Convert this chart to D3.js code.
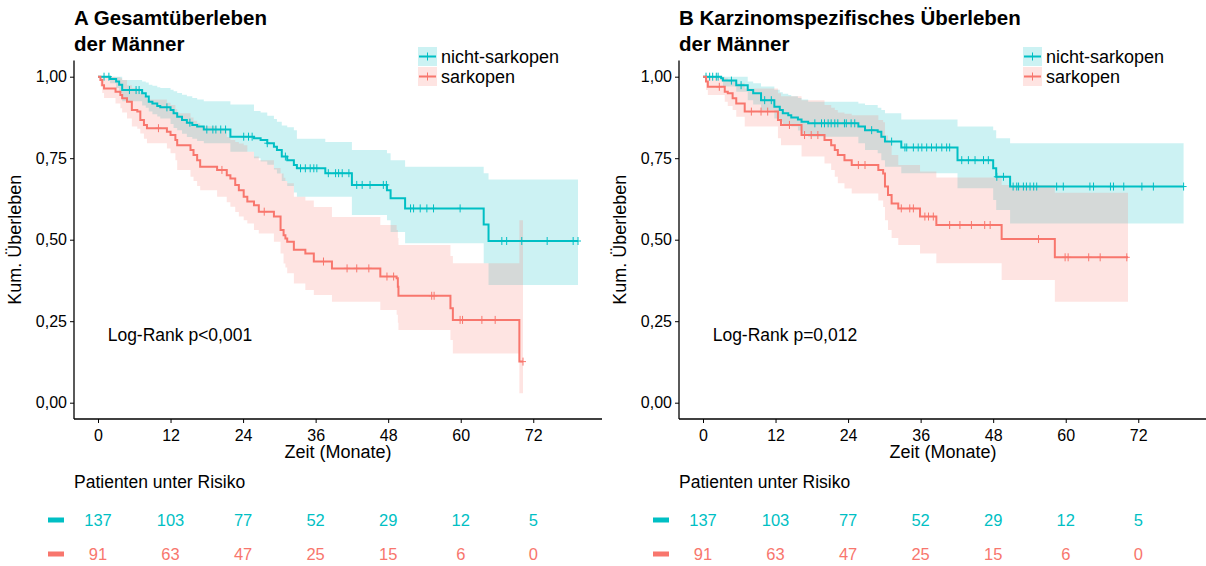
<!DOCTYPE html>
<html>
<head>
<meta charset="utf-8">
<script src="https://cdn.jsdelivr.net/npm/d3@7"></script>
<style>
  body { margin: 0; background: #fff; }
  text { font-family: "Liberation Sans", Arial, sans-serif; fill: #000; }
</style>
</head>
<body>
<div id="chart"></div>
<script>
// group names, colours and risk table
var groups = ["nicht-sarkopen", "sarkopen"];
var riskTimes = [0, 12, 24, 36, 48, 60, 72];
var riskNicht = [137, 103, 77, 52, 29, 12, 5];
var riskSark = [91, 63, 47, 25, 15, 6, 0];

// Panel A: Gesamtueberleben, nicht-sarkopen
var aNichtTime = [0, 2.0, 3.0, 3.5, 4.0, 7.3, 7.9, 8.4, 9.0, 9.8, 10.3, 12.0, 12.5, 13.1, 13.9, 14.7, 15.6, 16.4, 17.5, 21.9, 25.8, 26.9, 28.0, 29.1, 29.6, 30.4, 31.3, 32.4, 32.9, 37.6, 42.0, 47.8, 48.4, 50.8, 63.8, 64.6];
var aNichtSurv = [1, 0.993, 0.985, 0.975, 0.959, 0.949, 0.939, 0.923, 0.918, 0.910, 0.906, 0.898, 0.888, 0.877, 0.867, 0.859, 0.852, 0.847, 0.838, 0.816, 0.811, 0.806, 0.796, 0.785, 0.775, 0.755, 0.744, 0.729, 0.719, 0.704, 0.668, 0.652, 0.627, 0.596, 0.547, 0.496];
var aNichtLow = [1, 0.98, 0.965, 0.95, 0.925, 0.912, 0.905, 0.893, 0.885, 0.878, 0.872, 0.855, 0.843, 0.836, 0.825, 0.815, 0.81, 0.803, 0.796, 0.77, 0.75, 0.74, 0.73, 0.715, 0.703, 0.68, 0.665, 0.645, 0.632, 0.632, 0.576, 0.56, 0.524, 0.489, 0.428, 0.361];
var aNichtUp = [1, 1, 1, 1, 0.99, 0.985, 0.982, 0.975, 0.972, 0.968, 0.965, 0.96, 0.955, 0.95, 0.945, 0.94, 0.935, 0.93, 0.925, 0.915, 0.895, 0.89, 0.88, 0.87, 0.862, 0.85, 0.845, 0.836, 0.81, 0.80, 0.775, 0.765, 0.744, 0.724, 0.704, 0.685];
var aNichtEnd = 79.4;
var aNichtCens = [1.0, 1.8, 5.2, 6.3, 6.8, 11.4, 15.2, 18.0, 19.0, 19.5, 20.3, 21.1, 24.1, 24.9, 25.5, 28.0, 31.0, 33.5, 34.3, 35.1, 35.7, 36.2, 38.1, 39.3, 39.8, 40.4, 41.5, 42.8, 43.7, 45.0, 47.2, 47.7, 51.7, 52.2, 53.3, 54.4, 55.5, 59.9, 66.8, 67.6, 70.1, 74.3, 78.6, 79.4];

// Panel A: Gesamtueberleben, sarkopen
var aSarkTime = [0, 0.4, 0.7, 1.0, 2.9, 3.7, 4.0, 4.8, 5.6, 6.5, 7.0, 7.6, 8.1, 11.4, 12.0, 12.8, 13.1, 15.3, 15.8, 16.4, 16.9, 19.7, 21.3, 21.9, 22.7, 23.3, 24.1, 24.7, 25.8, 26.6, 29.1, 30.2, 30.7, 31.0, 31.3, 32.4, 34.3, 35.7, 38.7, 46.7, 49.4, 49.6, 49.7, 58.3, 58.7, 69.7];
var aSarkSurv = [1, 0.990, 0.974, 0.964, 0.954, 0.944, 0.934, 0.923, 0.898, 0.893, 0.867, 0.852, 0.842, 0.831, 0.821, 0.806, 0.790, 0.775, 0.760, 0.744, 0.724, 0.714, 0.698, 0.688, 0.668, 0.652, 0.632, 0.617, 0.606, 0.586, 0.571, 0.530, 0.514, 0.504, 0.494, 0.469, 0.458, 0.433, 0.412, 0.387, 0.382, 0.356, 0.328, 0.290, 0.254, 0.126];
var aSarkLow = [1, 0.97, 0.95, 0.935, 0.918, 0.903, 0.89, 0.872, 0.847, 0.84, 0.826, 0.81, 0.796, 0.78, 0.765, 0.744, 0.714, 0.693, 0.68, 0.665, 0.652, 0.632, 0.615, 0.601, 0.585, 0.571, 0.56, 0.55, 0.53, 0.519, 0.494, 0.458, 0.427, 0.415, 0.397, 0.366, 0.346, 0.330, 0.310, 0.284, 0.27, 0.245, 0.223, 0.192, 0.151, 0.029];
var aSarkUp = [1, 1, 1, 1, 0.998, 0.995, 0.99, 0.974, 0.965, 0.96, 0.949, 0.94, 0.93, 0.92, 0.913, 0.9, 0.888, 0.875, 0.865, 0.857, 0.848, 0.836, 0.815, 0.806, 0.8, 0.795, 0.79, 0.77, 0.755, 0.744, 0.72, 0.703, 0.69, 0.68, 0.673, 0.632, 0.62, 0.60, 0.57, 0.545, 0.53, 0.505, 0.484, 0.45, 0.428, 0.56];
var aSarkEnd = 70.3;
var aSarkCens = [10.0, 20.5, 27.5, 37.3, 41.2, 42.8, 44.8, 47.8, 48.9, 55.2, 55.6, 59.9, 60.3, 63.5, 65.7, 70.3];

// Panel B: Karzinomspezifisches Ueberleben, nicht-sarkopen
var bNichtTime = [0, 3.0, 3.3, 5.5, 7.4, 8.3, 9.6, 11.8, 12.7, 13.2, 14.1, 14.6, 15.7, 16.3, 17.4, 25.7, 26.8, 28.9, 29.5, 30.1, 32.8, 42.1, 48.0, 48.5, 50.8];
var bNichtSurv = [1, 0.995, 0.988, 0.974, 0.959, 0.949, 0.928, 0.908, 0.898, 0.888, 0.882, 0.875, 0.869, 0.862, 0.857, 0.847, 0.836, 0.831, 0.816, 0.801, 0.783, 0.744, 0.719, 0.693, 0.663];
var bNichtLow = [1, 0.985, 0.97, 0.954, 0.928, 0.915, 0.898, 0.872, 0.862, 0.855, 0.85, 0.847, 0.835, 0.825, 0.816, 0.796, 0.775, 0.765, 0.744, 0.724, 0.704, 0.658, 0.622, 0.591, 0.55];
var bNichtUp = [1, 1, 1, 1, 0.985, 0.98, 0.97, 0.96, 0.952, 0.948, 0.944, 0.94, 0.935, 0.93, 0.923, 0.918, 0.913, 0.905, 0.898, 0.888, 0.869, 0.847, 0.836, 0.811, 0.796];
var bNichtEnd = 79.5;
var bNichtCens = [0.5, 1.1, 1.6, 2.2, 2.5, 4.7, 6.3, 10.2, 11.3, 18.5, 19.6, 20.1, 20.7, 21.2, 21.8, 22.3, 23.4, 23.7, 24.5, 25.1, 27.9, 31.2, 33.4, 33.7, 34.8, 35.6, 36.2, 37.0, 37.8, 38.6, 39.5, 40.3, 40.8, 42.8, 43.9, 45.0, 46.4, 47.2, 48.6, 49.7, 51.3, 51.9, 52.2, 53.0, 53.5, 54.1, 54.7, 55.2, 58.5, 59.6, 64.0, 64.6, 67.4, 67.9, 69.6, 72.6, 74.5, 79.5];

// Panel B: Karzinomspezifisches Ueberleben, sarkopen
var bSarkTime = [0, 0.5, 0.8, 3.6, 4.1, 4.9, 5.5, 6.9, 12.4, 12.9, 16.3, 20.1, 21.2, 21.8, 22.3, 23.4, 24.6, 29.0, 29.8, 30.1, 30.6, 31.2, 32.3, 35.9, 38.6, 49.4, 58.2];
var bSarkSurv = [1, 0.985, 0.969, 0.954, 0.949, 0.934, 0.918, 0.893, 0.867, 0.852, 0.821, 0.806, 0.790, 0.775, 0.760, 0.744, 0.729, 0.714, 0.703, 0.663, 0.637, 0.611, 0.596, 0.571, 0.545, 0.502, 0.446];
var bSarkLow = [1, 0.959, 0.944, 0.923, 0.91, 0.898, 0.877, 0.847, 0.811, 0.79, 0.755, 0.734, 0.714, 0.693, 0.673, 0.657, 0.642, 0.62, 0.60, 0.56, 0.53, 0.505, 0.484, 0.458, 0.428, 0.376, 0.31];
var bSarkUp = [1, 1, 1, 0.995, 0.99, 0.985, 0.98, 0.964, 0.949, 0.94, 0.928, 0.913, 0.905, 0.898, 0.89, 0.886, 0.882, 0.867, 0.86, 0.82, 0.80, 0.76, 0.729, 0.709, 0.691, 0.668, 0.644];
var bSarkEnd = 70.3;
var bSarkCens = [2.7, 8.0, 9.6, 10.7, 14.3, 16.8, 17.9, 19.0, 25.7, 26.8, 32.8, 34.2, 34.8, 36.7, 37.3, 38.1, 40.8, 42.5, 44.4, 46.6, 47.5, 55.5, 59.9, 60.4, 63.8, 65.7, 70.1];

var cyan = "#00BFC4", red = "#F8766D";

var svg = d3.select("#chart").append("svg")
    .attr("width", 1206)
    .attr("height", 566);

// turn parallel arrays into rows, last row repeated at end time
function makeRows(time, surv, low, up, end) {
    var rows = time.map((t, i) => ({t: t, s: surv[i], lo: low[i], hi: up[i]}));
    var last = rows[rows.length - 1];
    rows.push({t: end, s: last.s, lo: last.lo, hi: last.hi});
    return rows;
}

function survAt(rows, t) {
    var v = rows[0].s;
    rows.forEach(r => { if (r.t <= t) v = r.s; });
    return v;
}

function drawPanel(left, title, pText, curves) {
    var plotW = 528;
    var top = 60.4, bottom = 419;
    var x = d3.scaleLinear().domain([-3.97, 83.37]).range([left, left + plotW]);
    var y = d3.scaleLinear().domain([-0.05, 1.05]).range([bottom, top]);

    var g = svg.append("g");

    // ribbons first, then lines
    curves.forEach(c => {
        var area = d3.area()
            .curve(d3.curveStepAfter)
            .x(d => x(d.t))
            .y0(d => y(d.lo))
            .y1(d => y(d.hi));
        g.append("path")
            .datum(c.rows)
            .attr("d", area)
            .attr("fill", c.color)
            .attr("fill-opacity", 0.2);
    });

    curves.forEach(c => {
        var line = d3.line()
            .curve(d3.curveStepAfter)
            .x(d => x(d.t))
            .y(d => y(d.s));
        g.append("path")
            .datum(c.rows)
            .attr("d", line)
            .attr("fill", "none")
            .attr("stroke", c.color)
            .attr("stroke-width", 2);

        // censor marks
        g.selectAll(null)
            .data(c.cens)
            .enter()
            .append("path")
            .attr("d", t => {
                var cx = x(t), cy = y(survAt(c.rows, t));
                return "M" + (cx - 3) + "," + cy + "H" + (cx + 3) + "M" + cx + "," + (cy - 4) + "V" + (cy + 4);
            })
            .attr("stroke", c.color)
            .attr("stroke-width", 1);
    });

    // axes
    var xAxis = g.append("g")
        .attr("transform", "translate(0," + bottom + ")")
        .call(d3.axisBottom(x).tickValues(riskTimes).tickSize(4).tickSizeOuter(0));
    var yAxis = g.append("g")
        .attr("transform", "translate(" + left + ",0)")
        .call(d3.axisLeft(y).tickValues([0, 0.25, 0.5, 0.75, 1])
            .tickFormat(d => d3.format(".2f")(d).replace(".", ","))
            .tickSize(4).tickSizeOuter(0));
    [xAxis, yAxis].forEach(a => {
        a.select(".domain").attr("stroke", "#000").attr("stroke-width", 1.3);
        a.selectAll(".tick line").attr("stroke", "#000");
        a.selectAll(".tick text").style("font-size", "16px").attr("fill", "#000");
    });
    xAxis.selectAll(".tick text").attr("dy", "0.95em");
    xAxis.select(".domain").attr("d", "M" + left + ",0H" + (left + plotW));
    yAxis.select(".domain").attr("d", "M0," + top + "V" + bottom);

    g.append("text")
        .attr("x", left + plotW / 2)
        .attr("y", 458)
        .attr("text-anchor", "middle")
        .style("font-size", "18px")
        .text("Zeit (Monate)");
    g.append("text")
        .attr("transform", "translate(" + (left - 53) + "," + y(0.5) + ") rotate(-90)")
        .attr("text-anchor", "middle")
        .style("font-size", "18px")
        .text("Kum. Überleben");

    // title in two lines
    var tt = g.append("text")
        .attr("x", left)
        .attr("y", 25)
        .style("font-size", "20.5px")
        .style("font-weight", "bold");
    tt.append("tspan").attr("x", left).text(title[0]);
    tt.append("tspan").attr("x", left).attr("dy", 26).text(title[1]);

    g.append("text")
        .attr("x", x(1.6))
        .attr("y", y(0.19))
        .style("font-size", "17.5px")
        .text(pText);

    // legend
    var lx = left + 344;
    curves.forEach((c, i) => {
        var ly = 47 + i * 20;
        g.append("rect")
            .attr("x", lx).attr("y", ly)
            .attr("width", 19).attr("height", 19)
            .attr("fill", c.color).attr("fill-opacity", 0.2);
        g.append("line")
            .attr("x1", lx + 1).attr("x2", lx + 18)
            .attr("y1", ly + 9.5).attr("y2", ly + 9.5)
            .attr("stroke", c.color).attr("stroke-width", 2);
        g.append("line")
            .attr("x1", lx + 9.5).attr("x2", lx + 9.5)
            .attr("y1", ly + 5.5).attr("y2", ly + 13.5)
            .attr("stroke", c.color).attr("stroke-width", 1);
        g.append("text")
            .attr("x", lx + 23)
            .attr("y", ly + 16)
            .style("font-size", "18px")
            .text(c.name);
    });

    // risk table
    g.append("text")
        .attr("x", left)
        .attr("y", 488)
        .style("font-size", "17.5px")
        .text("Patienten unter Risiko");
    curves.forEach((c, i) => {
        var ry = 520 + i * 34;
        g.append("rect")
            .attr("x", left - 26).attr("y", ry - 2.5)
            .attr("width", 16).attr("height", 5)
            .attr("fill", c.color);
        g.selectAll(null)
            .data(c.risk)
            .enter()
            .append("text")
            .attr("x", (d, j) => x(riskTimes[j]))
            .attr("y", ry + 6)
            .attr("text-anchor", "middle")
            .style("font-size", "16.5px")
            .style("fill", c.color)
            .text(d => d);
    });
}

drawPanel(74, ["A Gesamtüberleben", "der Männer"], "Log-Rank p<0,001", [
    {name: groups[0], color: cyan, risk: riskNicht, cens: aNichtCens,
     rows: makeRows(aNichtTime, aNichtSurv, aNichtLow, aNichtUp, aNichtEnd)},
    {name: groups[1], color: red, risk: riskSark, cens: aSarkCens,
     rows: makeRows(aSarkTime, aSarkSurv, aSarkLow, aSarkUp, aSarkEnd)}
]);

drawPanel(679, ["B Karzinomspezifisches Überleben", "der Männer"], "Log-Rank p=0,012", [
    {name: groups[0], color: cyan, risk: riskNicht, cens: bNichtCens,
     rows: makeRows(bNichtTime, bNichtSurv, bNichtLow, bNichtUp, bNichtEnd)},
    {name: groups[1], color: red, risk: riskSark, cens: bSarkCens,
     rows: makeRows(bSarkTime, bSarkSurv, bSarkLow, bSarkUp, bSarkEnd)}
]);
</script>
</body>
</html>
